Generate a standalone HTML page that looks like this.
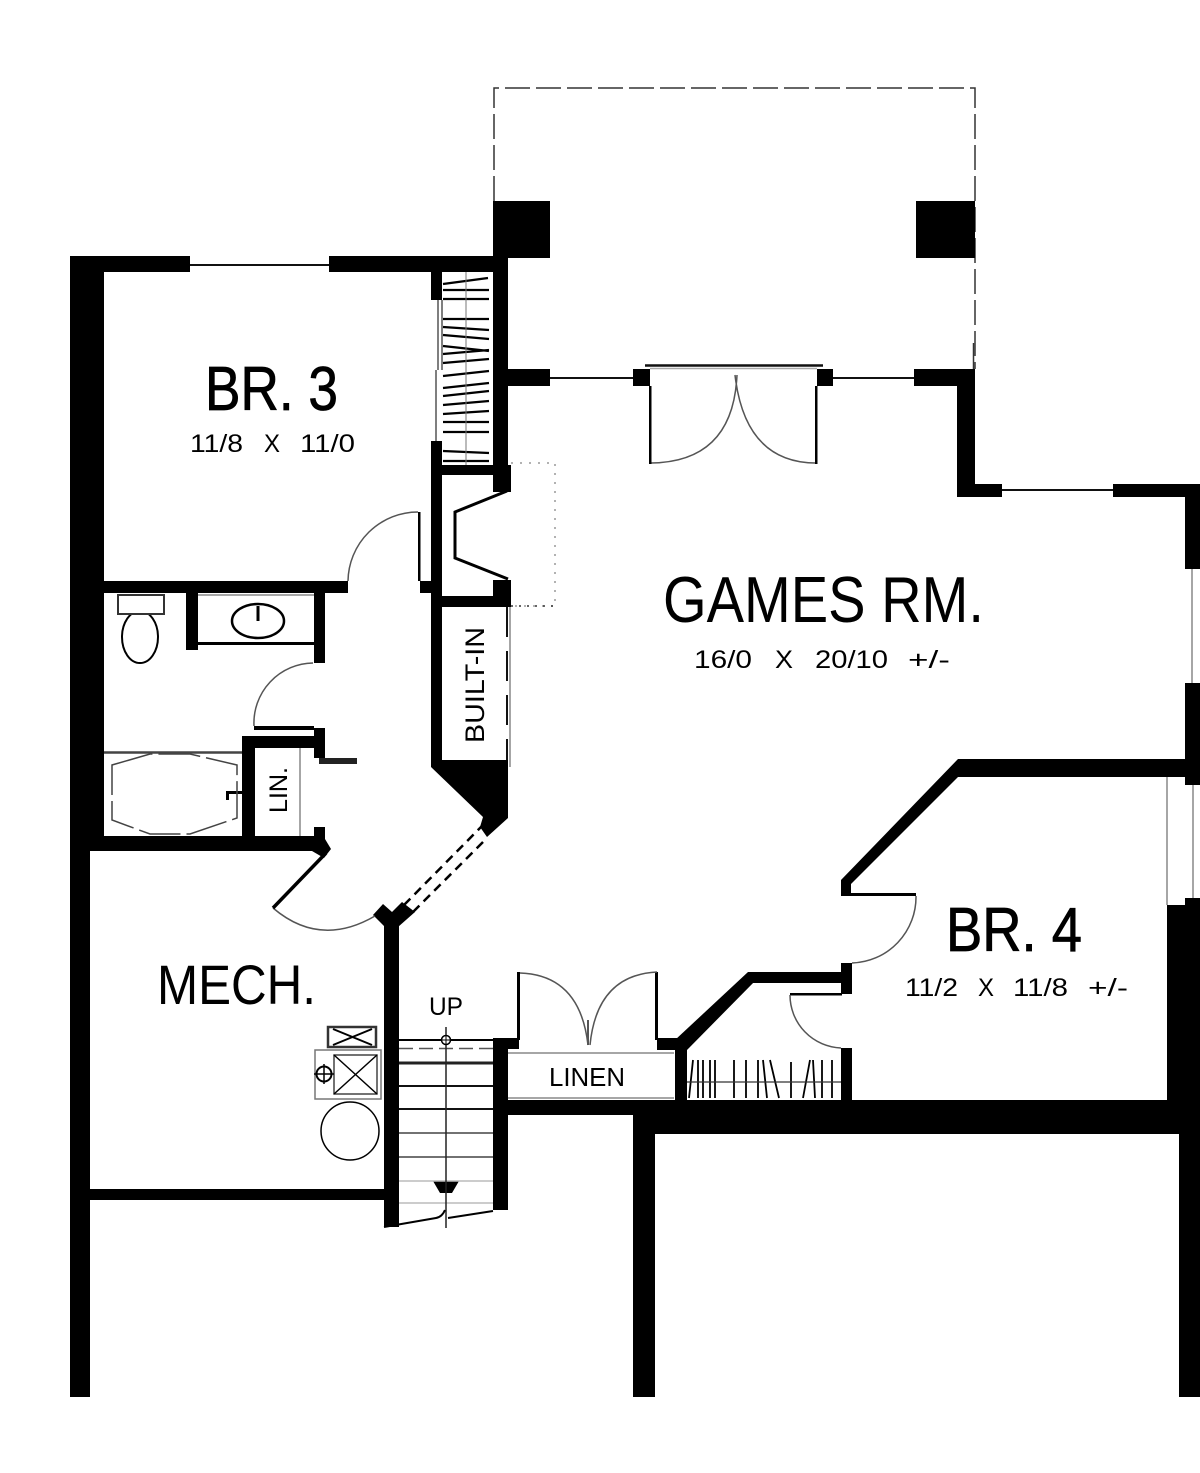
<!DOCTYPE html>
<html><head><meta charset="utf-8"><style>html,body{margin:0;padding:0;background:#fff}svg{display:block}text{font-family:"Liberation Sans",sans-serif;fill:#000}</style></head>
<body>
<svg width="1200" height="1473" viewBox="0 0 1200 1473" xmlns="http://www.w3.org/2000/svg">
<rect width="1200" height="1473" fill="#fff"/>
<!-- porch dashed -->
<path d="M494 201V88H975V369" fill="none" stroke="#333" stroke-width="1.500" stroke-dasharray="25 6"/>
<!-- thin window lines -->
<g stroke="#111" stroke-width="2" fill="none">
<path d="M190 265H330M550 378H634M833 378H915M1002 490H1114"/>
<path d="M645 365.500H823" stroke-width="2.500"/>
<path d="M650 368.500H817" stroke="#aaa" stroke-width="1.500"/>
<path d="M973.500 343V369" stroke="#333" stroke-width="1.500"/>
</g>
<g stroke="#888" stroke-width="1.500" fill="none">
<path d="M1192 569V683M1167 777V905M1193 777V900M510 607V767M300 748V836"/>
<path d="M438 300V370M436 370V441M442 300V370" stroke="#555"/>
<path d="M508 1053H674M508 1098H674"/>
<path d="M198 595H314"/>
</g>
<!-- walls -->
<g fill="#000">
<rect x="70" y="256" width="34" height="595"/>
<rect x="70" y="851" width="20" height="546"/>
<rect x="70" y="256" width="120" height="16"/>
<rect x="329" y="256" width="179" height="16"/>
<rect x="493" y="201" width="57" height="57"/>
<rect x="916" y="201" width="59" height="57"/>
<rect x="493" y="256" width="15" height="235"/>
<rect x="431" y="272" width="11" height="28"/>
<rect x="431" y="441" width="11" height="326"/>
<rect x="431" y="465" width="77" height="10"/>
<rect x="431" y="596" width="80" height="11"/>
<rect x="493" y="465" width="18" height="27"/>
<rect x="493" y="580" width="18" height="27"/>
<rect x="508" y="369" width="42" height="17"/>
<rect x="633" y="369" width="17" height="17"/>
<rect x="817" y="369" width="16" height="17"/>
<rect x="914" y="369" width="61" height="17"/>
<rect x="957" y="369" width="18" height="128"/>
<rect x="957" y="484" width="45" height="13"/>
<rect x="1113" y="484" width="87" height="13"/>
<rect x="1185" y="484" width="15" height="85"/>
<rect x="1185" y="683" width="15" height="102"/>
<rect x="958" y="759" width="242" height="18"/>
<rect x="1185" y="898" width="15" height="20"/>
<rect x="1167" y="905" width="33" height="229"/>
<rect x="1179" y="1134" width="21" height="263"/>
<rect x="633" y="1100" width="567" height="34"/>
<rect x="633" y="1100" width="22" height="297"/>
<rect x="493" y="1100" width="150" height="15"/>
<rect x="493" y="1038" width="15" height="172"/>
<rect x="493" y="1038" width="26" height="11"/>
<rect x="517" y="972" width="3" height="68"/>
<rect x="655" y="972" width="3" height="68"/>
<rect x="657" y="1038" width="26" height="12"/>
<rect x="675" y="1040" width="12" height="62"/>
<rect x="841" y="1048" width="11" height="54"/>
<rect x="841" y="963" width="11" height="31"/>
<rect x="748" y="972" width="95" height="11"/>
<rect x="790" y="993" width="52" height="2.500"/>
<polygon points="748,972 756,980 687,1050 675,1040"/>
<polygon points="958,759 958,777 851,884 851,893 916,893 916,896 841,896 841,880"/>
<rect x="104" y="581" width="244" height="12"/>
<rect x="420" y="581" width="11" height="12"/>
<rect x="418" y="512" width="2.500" height="69"/>
<rect x="186" y="593" width="12" height="57"/>
<rect x="198" y="642" width="116" height="3"/>
<rect x="314" y="593" width="11" height="70"/>
<rect x="254" y="726" width="60" height="4"/>
<rect x="314" y="728" width="11" height="30"/>
<rect x="242" y="736" width="83" height="12"/>
<rect x="242" y="736" width="13" height="100"/>
<rect x="319" y="758" width="38" height="6" fill="#222"/>
<rect x="314" y="827" width="11" height="12"/>
<rect x="70" y="836" width="245" height="15"/>
<polygon points="315,836 325,839 331,849 324,858 312,851"/>
<rect x="90" y="1189" width="294" height="11"/>
<rect x="384" y="920" width="15" height="307"/>
<polygon points="373,915 383,904 392,912 402,902 415,912 398,927 398,935 384,935 384,926"/>
<polygon points="431,767 442,760 508,760 508,818 487,837 480,827 483,817"/>
<rect x="228" y="791" width="14" height="3"/>
<rect x="226" y="791" width="3" height="9"/>
<rect x="449" y="1039" width="44" height="2"/>
<rect x="399" y="1039" width="44" height="2"/>
<polygon points="433,1181 459,1181 452,1193 440,1193"/>
</g>
<!-- fireplace -->
<path d="M507 491L455 512V558L508 579" fill="none" stroke="#000" stroke-width="3"/>
<path d="M510 465V492M510 580V606" stroke="#000" stroke-width="1.500"/>
<path d="M511 463H555V606H511" fill="none" stroke="#999" stroke-width="1.500" stroke-dasharray="2 7"/>
<path d="M511 606H555" stroke="#333" stroke-width="1.500" stroke-dasharray="2 6"/>
<!-- built-in -->
<path d="M507 607V760" stroke="#111" stroke-width="2" stroke-dasharray="30 14" fill="none"/>
<!-- door arcs -->
<g fill="none" stroke="#555" stroke-width="1.500">
<path d="M348 581A70 70 0 0 1 418 512"/>
<path d="M254 726A60 60 0 0 1 313 663"/>
<path d="M273 908Q320 948 375 916"/>
<path d="M651 463Q733 462 737 375"/>
<path d="M815 463Q745 462 735 375"/>
<path d="M916 896A66 66 0 0 1 852 963"/>
<path d="M790 995A53 53 0 0 0 841 1048"/>
<path d="M520 973Q580 975 588 1045"/>
<path d="M657 972Q597 975 590 1045"/>
<path d="M588 1020V1045" stroke-width="2"/>
</g>
<rect x="649" y="386" width="2.500" height="78" fill="#000"/>
<rect x="815" y="386" width="2.500" height="78" fill="#000"/>
<path d="M326 853L273 908" stroke="#000" stroke-width="3.500" fill="none"/>
<!-- pocket doors -->
<path d="M404 905L483 825M413 912L487 838" stroke="#000" stroke-width="2.500" stroke-dasharray="9 6" fill="none"/>
<!-- fixtures -->
<g fill="none" stroke="#000" stroke-width="1.500">
<ellipse cx="140" cy="637" rx="18" ry="26" stroke-width="2"/>
<rect x="118" y="595" width="46" height="19" fill="#fff" stroke="#333" stroke-width="2"/>
<ellipse cx="258" cy="621" rx="26" ry="17" stroke-width="2.500"/>
<path d="M258 606V621" stroke-width="3"/>
<path d="M104 752.500H242" stroke="#444" stroke-width="2.500"/>
<path d="M112 765L150 754H190L237 765V818L190 834H150L112 820Z" stroke="#444" stroke-dasharray="42 6"/>
<rect x="328" y="1027" width="48" height="20" stroke="#333" stroke-width="2.500"/>
<path d="M333 1029L372 1045M372 1029L333 1045" stroke-width="2"/>
<rect x="315" y="1050" width="66" height="49" stroke="#777"/>
<rect x="334" y="1055" width="43" height="39" stroke="#444"/>
<path d="M334 1055L377 1094M377 1055L334 1094"/>
<circle cx="324" cy="1074" r="7.500" stroke-width="2"/>
<path d="M314 1074H334M324 1064V1084"/>
<circle cx="350" cy="1131" r="29" stroke-width="1.500"/>
</g>
<!-- stairs -->
<g fill="none" stroke="#000">
<path d="M399 1048.500H493" stroke="#555" stroke-width="1.500" stroke-dasharray="14 6"/>
<path d="M399 1063H493" stroke="#222" stroke-width="3"/>
<path d="M399 1086H493M399 1109H493" stroke="#111" stroke-width="2"/>
<path d="M399 1133H493M399 1157H493" stroke="#444" stroke-width="1.500"/>
<path d="M399 1181H493M399 1203H493" stroke="#bbb" stroke-width="1.500"/>
<path d="M446 1027V1228" stroke="#222" stroke-width="1.500"/>
<circle cx="446" cy="1040" r="4.500" stroke-width="1.500" fill="#fff"/>
<path d="M441 1040H451M446 1035V1045" stroke-width="1"/>
<path d="M384 1227L436 1218Q442 1217 445 1210M448 1218L493 1211" stroke-width="2"/>
</g>
<!-- closet BR3 hatching -->
<g stroke="#000" stroke-width="2.200" fill="none">
<path d="M443 284L488 278M443 290L489 290M443 299L489 299M443 319H489M443 327L489 330M443 335L489 339M443 346L489 351M443 354L489 350M443 363L489 359M443 376L489 371M443 388L489 383M443 396L489 391M443 405L489 401M443 414L489 411M443 422H489M443 432H489M443 451L489 453M443 461H489"/>
<path d="M466 272V465" stroke="#777" stroke-width="1"/>
</g>
<!-- closet BR4 hatching -->
<g stroke="#000" stroke-width="1.800" fill="none">
<path d="M689 1098L693 1060M698 1098V1060M703 1098V1060M710 1098V1060M715 1098V1060M734 1098V1060M746 1098V1060M758 1098V1060M767 1098L763 1060M779 1098L770 1060M791 1098V1062M803 1098L810 1060M815 1098L813 1060M822 1098V1060M832 1098V1060"/>
<path d="M687 1082H841" stroke="#333" stroke-width="1.200"/>
</g>
<!-- text -->
<text x="205" y="410" font-size="62" textLength="133" lengthAdjust="spacingAndGlyphs" stroke="#000" stroke-width="0.800">BR. 3</text>
<g font-size="25" fill="#222">
<text x="190" y="452" font-size="25" textLength="53" lengthAdjust="spacingAndGlyphs">11/8</text>
<text x="264" y="452" font-size="25" textLength="16" lengthAdjust="spacingAndGlyphs">X</text>
<text x="300" y="452" font-size="25" textLength="55" lengthAdjust="spacingAndGlyphs">11/0</text>
<text x="694" y="668" font-size="25" textLength="58" lengthAdjust="spacingAndGlyphs">16/0</text>
<text x="775" y="668" font-size="25" textLength="18" lengthAdjust="spacingAndGlyphs">X</text>
<text x="815" y="668" font-size="25" textLength="73" lengthAdjust="spacingAndGlyphs">20/10</text>
<text x="908" y="668" font-size="25" textLength="42" lengthAdjust="spacingAndGlyphs">+/-</text>
<text x="905" y="996" font-size="25" textLength="53" lengthAdjust="spacingAndGlyphs">11/2</text>
<text x="978" y="996" font-size="25" textLength="16" lengthAdjust="spacingAndGlyphs">X</text>
<text x="1013" y="996" font-size="25" textLength="55" lengthAdjust="spacingAndGlyphs">11/8</text>
<text x="1088" y="996" font-size="25" textLength="40" lengthAdjust="spacingAndGlyphs">+/-</text>
</g>
<text x="663" y="622" font-size="65" textLength="321" lengthAdjust="spacingAndGlyphs">GAMES RM.</text>
<text x="946" y="951" font-size="62" textLength="136" lengthAdjust="spacingAndGlyphs" stroke="#000" stroke-width="0.800">BR. 4</text>
<text x="157" y="1004" font-size="56" textLength="159" lengthAdjust="spacingAndGlyphs">MECH.</text>
<text x="429" y="1015" font-size="25" textLength="34" lengthAdjust="spacingAndGlyphs">UP</text>
<text x="549" y="1086" font-size="26" textLength="76" lengthAdjust="spacingAndGlyphs">LINEN</text>
<text transform="translate(484 743) rotate(-90)" font-size="27" textLength="116" lengthAdjust="spacingAndGlyphs">BUILT-IN</text>
<text transform="translate(287 813) rotate(-90)" font-size="25" textLength="46" lengthAdjust="spacingAndGlyphs">LIN.</text>
</svg>
</body></html>
